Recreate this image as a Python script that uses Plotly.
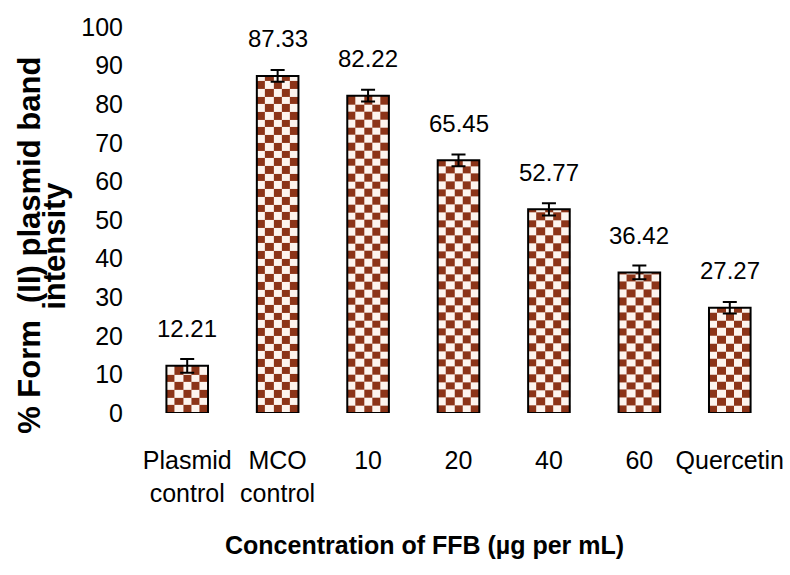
import numpy as np
import plotly.graph_objects as go

# Data
categories = ["Plasmid<br>control", "MCO<br>control", "10", "20", "40", "60", "Quercetin"]
values = [12.21, 87.33, 82.22, 65.45, 52.77, 36.42, 27.27]
errors = [1.8, 1.5, 1.5, 1.5, 1.6, 1.8, 1.5]
y_ticks = [0, 10, 20, 30, 40, 50, 60, 70, 80, 90, 100]

# Styling
BROWN = "#8c3418"
CREAM = "#fdf4ee"
BAR_WIDTH = 0.46
CELL_COLS = 5
CELL_H = 2.0
FONT = "Liberation Sans, Arial, sans-serif"

fig = go.Figure()
xpos = np.arange(len(categories))

# Checkerboard fill for each bar
for i, v in enumerate(values):
    xe = np.linspace(i - BAR_WIDTH / 2, i + BAR_WIDTH / 2, CELL_COLS + 1)
    ye = np.append(np.arange(0, v - 0.3, CELL_H), v)
    z = np.add.outer(np.arange(len(ye) - 1), np.arange(CELL_COLS)) % 2
    fig.add_trace(go.Heatmap(
        x=xe, y=ye, z=z, zmin=0, zmax=1,
        colorscale=[[0, BROWN], [1, CREAM]],
        showscale=False, hoverinfo="skip",
    ))

# Bar outlines with error bars
fig.add_trace(go.Bar(
    x=xpos, y=values, width=BAR_WIDTH,
    marker=dict(color="rgba(0,0,0,0)", line=dict(color="black", width=2)),
    error_y=dict(type="data", array=errors, color="black", thickness=2, width=7),
    hoverinfo="skip", showlegend=False,
))

# Value labels above bars
for i, v in enumerate(values):
    fig.add_annotation(
        x=i, y=v, text=f"{v:.2f}", showarrow=False,
        yanchor="middle", yshift=37,
        font=dict(family=FONT, size=24, color="black"),
    )

# Axis titles
fig.add_annotation(
    xref="paper", yref="paper", x=0, y=0.433, xshift=-112,
    xanchor="center", yanchor="middle",
    text="% Form  (II) plasmid band", textangle=-90, showarrow=False,
    font=dict(family=FONT, size=31, color="black", weight="bold"),
)
fig.add_annotation(
    xref="paper", yref="paper", x=0, y=0.433, xshift=-87,
    xanchor="center", yanchor="middle",
    text="intensity", textangle=-90, showarrow=False,
    font=dict(family=FONT, size=31, color="black", weight="bold"),
)
fig.add_annotation(
    xref="paper", yref="paper", x=0.447, y=-0.342,
    xanchor="center", yanchor="middle",
    text="Concentration of FFB (µg per mL)", showarrow=False,
    font=dict(family=FONT, size=25, color="black", weight="bold"),
)

fig.update_layout(
    width=790, height=575,
    margin=dict(l=142, r=15, t=27, b=162),
    paper_bgcolor="white", plot_bgcolor="white",
    showlegend=False,
    xaxis=dict(
        range=[-0.5, 6.5], tickvals=xpos, ticktext=categories,
        showgrid=False, zeroline=False, showline=False, ticks="",
        tickangle=0, automargin=False,
        tickfont=dict(family=FONT, size=25, color="black"),
        ticklabelstandoff=30,
    ),
    yaxis=dict(
        range=[0, 100], tickvals=y_ticks, automargin=False,
        showgrid=False, zeroline=False, showline=False, ticks="",
        tickfont=dict(family=FONT, size=25, color="black"),
        ticklabelstandoff=18,
    ),
)

fig.write_html("out.html")
